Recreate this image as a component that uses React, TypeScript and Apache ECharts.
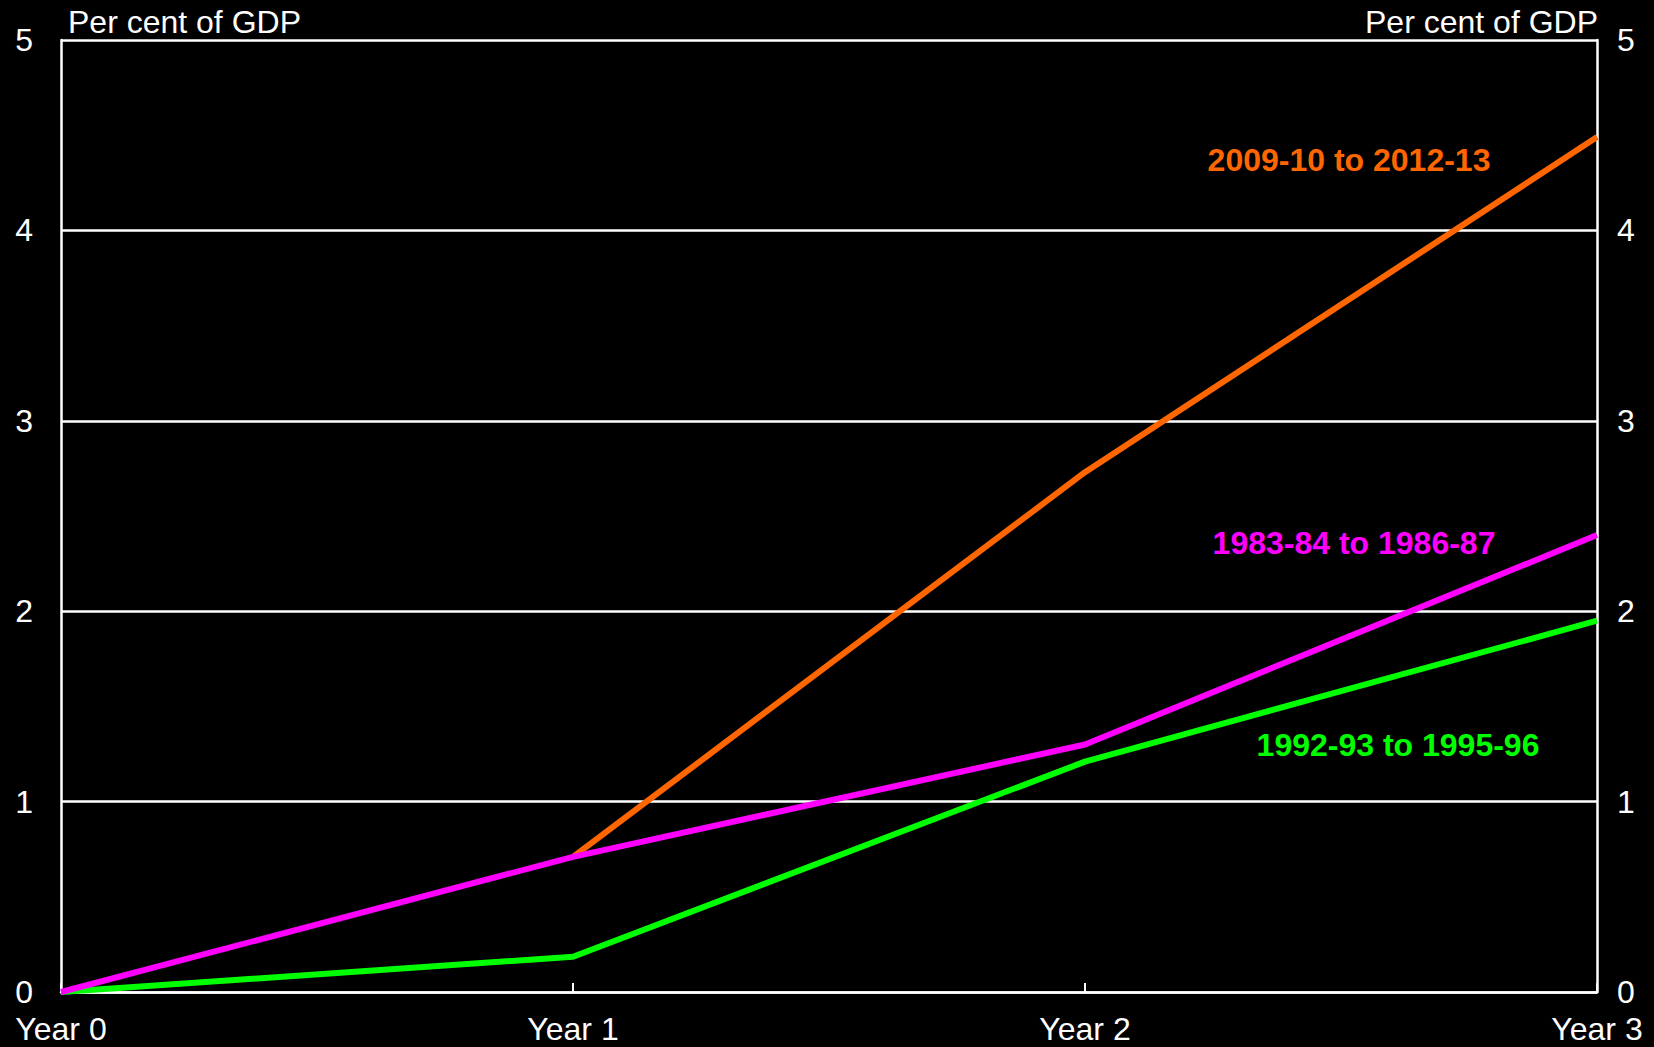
import React, { useEffect, useRef } from "react";
import * as echarts from "echarts";

const categories = ["Year 0", "Year 1", "Year 2", "Year 3"];
const series2009 = [null, 0.71, 2.73, 4.49];
const series1983 = [0, 0.71, 1.3, 2.4];
const series1992 = [0, 0.185, 1.21, 1.95];
const seriesNames = ["2009-10 to 2012-13", "1983-84 to 1986-87", "1992-93 to 1995-96"];
const axisTitle = "Per cent of GDP";

const FONT = "'Liberation Sans', Arial, sans-serif";
const FS = 32;
const ORANGE = "#FF6600";
const MAGENTA = "#FF00FF";
const GREEN = "#00FF00";

export default function App() {
  const ref = useRef<HTMLDivElement>(null);
  useEffect(() => {
    if (!ref.current) return;
    const chart = echarts.init(ref.current, null, { renderer: "svg" });
    const yAxisCommon = {
      type: "value" as const,
      min: 0,
      max: 5,
      interval: 1,
      axisLine: { show: true, lineStyle: { color: "#fff", width: 2.5 } },
      axisTick: { show: false },
      axisLabel: { color: "#fff", fontSize: FS, fontFamily: FONT },
    };
    chart.setOption({
      animation: false,
      backgroundColor: "#000",
      grid: { left: 61, right: 57, top: 40, bottom: 55, containLabel: false },
      xAxis: {
        type: "category",
        data: categories,
        boundaryGap: false,
        axisLine: { show: true, lineStyle: { color: "#fff", width: 2.5 } },
        axisTick: { show: true, inside: true, length: 9, lineStyle: { color: "#fff", width: 2 } },
        axisLabel: { color: "#fff", fontSize: FS, fontFamily: FONT, margin: 21 },
        splitLine: { show: false },
      },
      yAxis: [
        {
          ...yAxisCommon,
          position: "left",
          axisLabel: { ...yAxisCommon.axisLabel, margin: 28 },
          splitLine: { show: true, lineStyle: { color: "#fff", width: 2.5 } },
        },
        {
          ...yAxisCommon,
          position: "right",
          axisLabel: { ...yAxisCommon.axisLabel, margin: 20 },
          splitLine: { show: false },
        },
      ],
      series: [
        {
          name: seriesNames[0],
          type: "line",
          data: series2009,
          symbol: "none",
          lineStyle: { color: ORANGE, width: 6 },
          z: 2,
        },
        {
          name: seriesNames[2],
          type: "line",
          data: series1992,
          symbol: "none",
          lineStyle: { color: GREEN, width: 6 },
          z: 3,
        },
        {
          name: seriesNames[1],
          type: "line",
          data: series1983,
          symbol: "none",
          lineStyle: { color: MAGENTA, width: 6 },
          z: 4,
        },
      ],
      graphic: [
        {
          type: "text",
          left: 68,
          top: 6,
          style: { text: axisTitle, fill: "#fff", fontSize: FS, fontFamily: FONT },
        },
        {
          type: "text",
          right: 56,
          top: 6,
          style: { text: axisTitle, fill: "#fff", fontSize: FS, fontFamily: FONT, align: "right" },
        },
        {
          type: "text",
          x: 1349,
          y: 160,
          style: {
            text: seriesNames[0],
            fill: ORANGE,
            fontSize: FS,
            fontWeight: "bold",
            fontFamily: FONT,
            align: "center",
            verticalAlign: "middle",
          },
        },
        {
          type: "text",
          x: 1354,
          y: 543,
          style: {
            text: seriesNames[1],
            fill: MAGENTA,
            fontSize: FS,
            fontWeight: "bold",
            fontFamily: FONT,
            align: "center",
            verticalAlign: "middle",
          },
        },
        {
          type: "text",
          x: 1398,
          y: 745,
          style: {
            text: seriesNames[2],
            fill: GREEN,
            fontSize: FS,
            fontWeight: "bold",
            fontFamily: FONT,
            align: "center",
            verticalAlign: "middle",
          },
        },
      ],
    });
    return () => chart.dispose();
  }, []);
  return (
    <div
      ref={ref}
      style={{ position: "fixed", left: 0, top: 0, width: 1654, height: 1047, background: "#000" }}
    />
  );
}
